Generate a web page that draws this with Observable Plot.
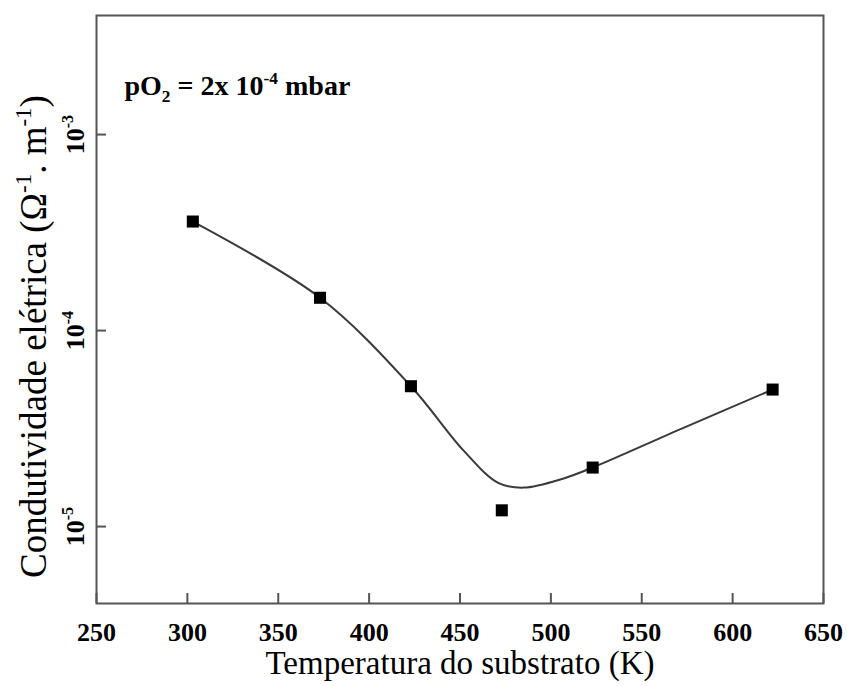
<!DOCTYPE html>
<html>
<head>
<meta charset="utf-8">
<script src="https://cdn.jsdelivr.net/npm/d3@7"></script>
<script src="https://cdn.jsdelivr.net/npm/@observablehq/plot@0.6"></script>
<style>
  html, body { margin: 0; padding: 0; background: white; }
</style>
</head>
<body>
<div id="chart"></div>
<script>
// Measured data points (square markers)
const temps = [303, 373, 423, 473, 523, 622];
const conductivity = [3.6e-4, 1.47e-4, 5.2e-5, 1.21e-5, 2.0e-5, 5.0e-5];

// Fitted guide curve
const fitTemps = [303, 373, 423, 452, 471, 485, 507, 523, 572, 622];
const fitValues = [3.6e-4, 1.47e-4, 5.2e-5, 2.44e-5, 1.67e-5, 1.58e-5, 1.76e-5, 2.0e-5, 3.16e-5, 5.0e-5];

// Axes
const xTicks = [250, 300, 350, 400, 450, 500, 550, 600, 650];
const yTicks = [1e-5, 1e-4, 1e-3];
const yTickLabels = ["10^{-5}", "10^{-4}", "10^{-3}"];
const xDomain = [250, 650];
const yDomain = [4.05e-6, 4.05e-3];

const xLabel = "Temperatura do substrato (K)";
const yLabel = "Condutividade elétrica (Ω^{-1}. m^{-1})";
const annotation = "pO_{2} = 2x 10^{-4} mbar";

const points = temps.map((t, i) => ({t, v: conductivity[i]}));
const fit = fitTemps.map((t, i) => ({t, v: fitValues[i]}));

const serif = "'Liberation Serif', 'Times New Roman', 'DejaVu Serif', serif";

const W = 847, H = 686, mL = 96, mR = 24, mT = 15, mB = 83;
const frameW = W - mL - mR, frameH = H - mT - mB, tickLen = 10;

const chart = Plot.plot({
  width: W,
  height: H,
  marginLeft: mL,
  marginRight: mR,
  marginTop: mT,
  marginBottom: mB,
  style: {fontFamily: serif, background: "white", color: "black"},
  x: {domain: xDomain, ticks: xTicks, axis: null},
  y: {type: "log", domain: yDomain, ticks: yTicks, axis: null},
  marks: [
    Plot.line(fit, {x: "t", y: "v", curve: "catmull-rom", stroke: "#3a3a3a", strokeWidth: 2}),
    Plot.dot(points, {x: "t", y: "v", symbol: "square", fill: "black", stroke: "none", r: 6.8}),
    // inward ticks
    Plot.tickX(xTicks, {x: d => d, insetTop: frameH - tickLen, stroke: "#555", strokeWidth: 2}),
    Plot.tickY(yTicks, {y: d => d, insetRight: frameW - tickLen, stroke: "#555", strokeWidth: 2}),
    // tick labels
    Plot.text(xTicks, {x: d => d, y: () => yDomain[0], dy: 29, text: d => String(d), fontWeight: "bold", fontSize: 26, fill: "black"}),
    Plot.text(yTicks, {x: () => xDomain[0], y: d => d, dx: -21, rotate: -90, text: (d, i) => yTickLabels[i], fontWeight: "bold", fontSize: 26, fill: "black"}),
    // axis titles
    Plot.text([xLabel], {frameAnchor: "bottom", dy: 70, text: d => d, fontSize: 33, fill: "black"}),
    Plot.text([yLabel], {frameAnchor: "left", textAnchor: "middle", dx: -62, dy: 27, rotate: -90, text: d => d, fontSize: 37, fill: "black"}),
    // annotation
    Plot.text([annotation], {frameAnchor: "top-left", dx: 28, dy: 60, textAnchor: "start", text: d => d, fontWeight: "bold", fontSize: 28, fill: "black"}),
    Plot.frame({stroke: "#555", strokeWidth: 2})
  ]
});

document.getElementById("chart").appendChild(chart);

// Turn ^{..} and _{..} markers into real superscript / subscript tspans
const NS = "http://www.w3.org/2000/svg";
chart.querySelectorAll("text").forEach(t => {
  const s = t.textContent;
  if (!/[\^_]\{/.test(s)) return;
  const fs = parseFloat(getComputedStyle(t).fontSize) || 16;
  while (t.firstChild) t.removeChild(t.firstChild);
  const re = /(\^|_)\{([^}]*)\}/g;
  let last = 0, m, shift = 0;
  const add = (str, kind) => {
    const ts = document.createElementNS(NS, "tspan");
    const target = kind === "^" ? -0.42 * fs : kind === "_" ? 0.22 * fs : 0;
    ts.setAttribute("dy", target - shift);
    shift = target;
    if (kind) ts.setAttribute("font-size", fs * 0.62);
    ts.textContent = str;
    t.appendChild(ts);
  };
  while ((m = re.exec(s))) {
    if (m.index > last) add(s.slice(last, m.index), null);
    add(m[2], m[1]);
    last = re.lastIndex;
  }
  if (last < s.length) add(s.slice(last), null);
});
</script>
</body>
</html>
